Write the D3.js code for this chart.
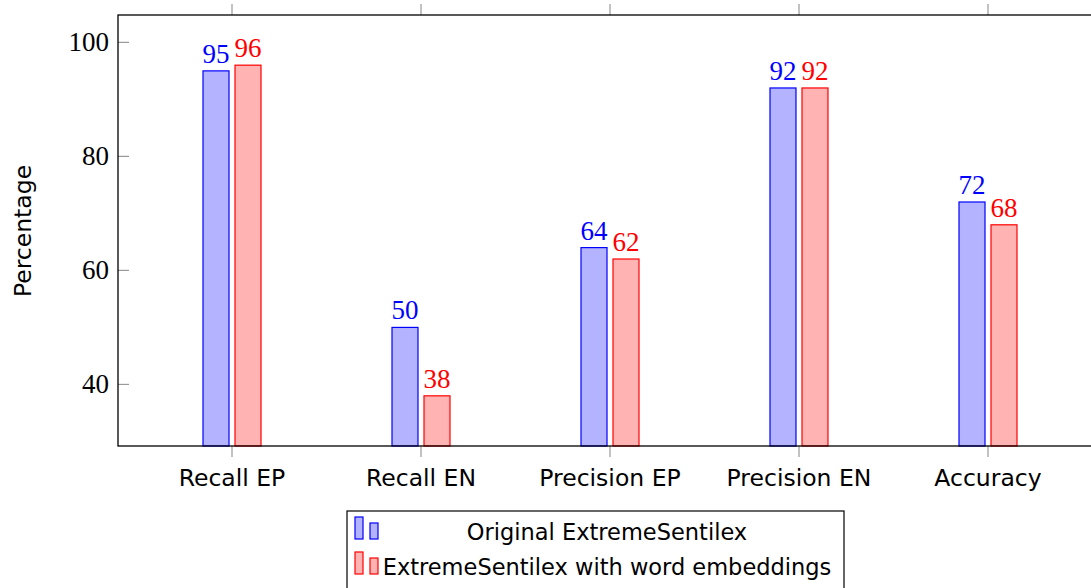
<!DOCTYPE html>
<html><head><meta charset="utf-8">
<script src="https://cdn.jsdelivr.net/npm/d3@7"></script>
<style>body{margin:0;background:#fff}svg{display:block}</style>
</head><body>
<svg id="c" width="1091" height="588"></svg>
<script>
const categories = ["Recall EP","Recall EN","Precision EP","Precision EN","Accuracy"];
const seriesNames = ["Original ExtremeSentilex","ExtremeSentilex with word embeddings"];
const original = [95,50,64,92,72];
const embeddings = [96,38,62,92,68];
const yTicks = [40,60,80,100];

const svg = d3.select("#c");
const L = 118, T = 15, R = 1102, B = 446;
const x = d3.scalePoint().domain(categories).range([232, 988]);
const y = d3.scaleLinear().domain([29.2, 104.8]).range([B, T]);
const serif = "'Liberation Serif','Times New Roman',serif";
const sans = "'DejaVu Sans',sans-serif";
const fsSans = 23.5, fsSerif = 27, fsLegend = 22.5;
const series = [
  {name: seriesNames[0], vals: original, fill: "#b3b3ff", stroke: "#0000ff", off: -16},
  {name: seriesNames[1], vals: embeddings, fill: "#ffb3b3", stroke: "#ff0000", off: 16}
];
const bw = 26;

// ticks
const g = svg.append("g");
g.selectAll(".yt").data(yTicks).join("g").each(function(d){
  const s = d3.select(this);
  s.append("line").attr("x1",L).attr("x2",L+11).attr("y1",y(d)).attr("y2",y(d)).attr("stroke","#999").attr("stroke-width",1.2);
  s.append("line").attr("x1",R-11).attr("x2",R).attr("y1",y(d)).attr("y2",y(d)).attr("stroke","#999").attr("stroke-width",1.2);
  s.append("text").attr("x",L-9).attr("y",y(d)+9).attr("text-anchor","end").attr("font-family",serif).attr("font-size",fsSerif).attr("fill","#000").text(d);
});
g.selectAll(".xt").data(categories).join("g").each(function(d){
  const s = d3.select(this);
  s.append("line").attr("x1",x(d)).attr("x2",x(d)).attr("y1",T).attr("y2",T-11).attr("stroke","#999").attr("stroke-width",1.2);
  s.append("line").attr("x1",x(d)).attr("x2",x(d)).attr("y1",B).attr("y2",B+11).attr("stroke","#999").attr("stroke-width",1.2);
  s.append("text").attr("x",x(d)).attr("y",486).attr("text-anchor","middle").attr("font-family",sans).attr("font-size",fsSans).attr("fill","#000").text(d);
});

// bars
series.forEach(s=>{
  const gg = svg.append("g");
  gg.selectAll("rect").data(categories).join("rect")
    .attr("x",(d)=>x(d)+s.off-bw/2).attr("width",bw)
    .attr("y",(d,i)=>y(s.vals[i])).attr("height",(d,i)=>B-y(s.vals[i]))
    .attr("fill",s.fill).attr("stroke",s.stroke).attr("stroke-width",1.2);
  gg.selectAll("text").data(categories).join("text")
    .attr("x",(d)=>x(d)+s.off).attr("y",(d,i)=>y(s.vals[i])-8)
    .attr("text-anchor","middle").attr("font-family",serif).attr("font-size",fsSerif)
    .attr("fill",s.stroke).text((d,i)=>s.vals[i]);
});

// frame
svg.append("rect").attr("x",L).attr("y",T).attr("width",R-L).attr("height",B-T).attr("fill","none").attr("stroke","#000").attr("stroke-width",1.3);

// y label
svg.append("text").attr("transform","translate(31,231) rotate(-90)").attr("text-anchor","middle")
  .attr("font-family",sans).attr("font-size",fsSans).attr("fill","#000").text("Percentage");

// legend
const lg = svg.append("g");
lg.append("rect").attr("x",347).attr("y",511).attr("width",497).attr("height",90).attr("fill","#fff").attr("stroke","#000").attr("stroke-width",1.2);
series.forEach((s,i)=>{
  const cy = 539 + i*35;
  lg.append("rect").attr("x",355).attr("y",cy-22).attr("width",8).attr("height",22).attr("fill",s.fill).attr("stroke",s.stroke).attr("stroke-width",1.2);
  lg.append("rect").attr("x",370).attr("y",cy-16).attr("width",8).attr("height",16).attr("fill",s.fill).attr("stroke",s.stroke).attr("stroke-width",1.2);
  lg.append("text").attr("x",607).attr("y",cy+1).attr("text-anchor","middle").attr("font-family",sans).attr("font-size",fsLegend).attr("fill","#000").text(s.name);
});
</script>
</body></html>
